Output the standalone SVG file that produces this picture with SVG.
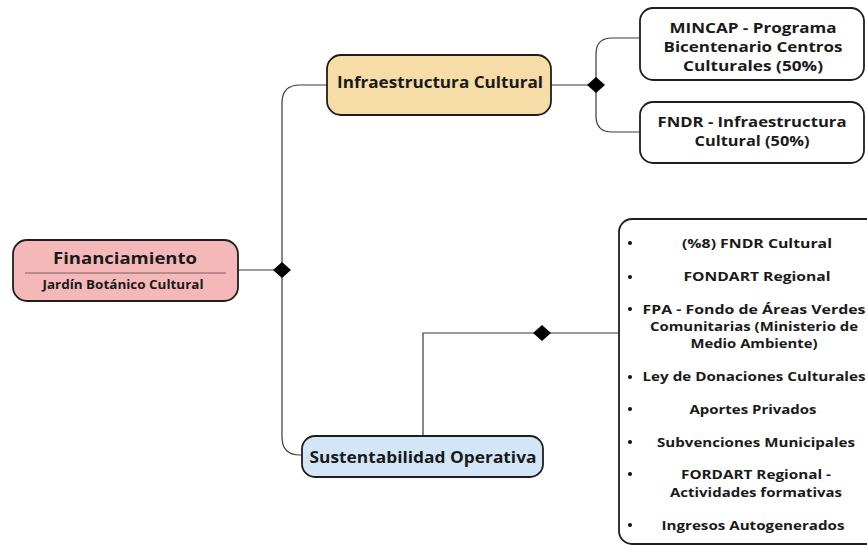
<svg xmlns="http://www.w3.org/2000/svg" width="867" height="546" viewBox="0 0 867 546">
<style>
.box{stroke:#1e1e1e;stroke-width:1.8}
.t{font-family:"Open Sans","Liberation Sans",sans-serif;font-weight:700;fill:#1a1a1a;text-anchor:middle}
.c{fill:none;stroke:#3a3a3a;stroke-width:1.2}
.d{fill:#000}
.b{fill:#111}
</style>
<rect width="867" height="546" fill="#ffffff"/>
<g id="connectors">
<path class="c" d="M238 270 H282"/>
<path class="c" d="M327 85 H300 Q282 85 282 103 V437 Q282 455 300 455 H302"/>
<path class="c" d="M551 85 H596"/>
<path class="c" d="M640 38 H612 Q596 38 596 54 V116 Q596 132 612 132 H640"/>
<path class="c" d="M423 436 V333 H620"/>
<polygon class="d" points="273,270 282,262 291,270 282,278"/>
<polygon class="d" points="587,85 596,77 605,85 596,93"/>
<polygon class="d" points="533,333 542,325 551,333 542,341"/>
</g>
<g id="financiamiento">
<rect class="box" x="13" y="240" width="225" height="61" rx="14" fill="#f5b8b8"/>
<line x1="25" y1="273" x2="226" y2="273" stroke="#5a4a4a" stroke-width="0.8"/>
<text class="t" x="125" y="264" font-size="16.5" textLength="144" lengthAdjust="spacingAndGlyphs">Financiamiento</text>
<text class="t" x="123" y="289" font-size="11.5" textLength="161" lengthAdjust="spacingAndGlyphs">Jardín Botánico Cultural</text>
</g>
<g id="infraestructura">
<rect class="box" x="327" y="55" width="224" height="60" rx="14" fill="#f6dca6"/>
<text class="t" x="440" y="88" font-size="16" textLength="206" lengthAdjust="spacingAndGlyphs">Infraestructura Cultural</text>
</g>
<g id="mincap">
<rect class="box" x="640" y="8" width="224" height="72" rx="13" fill="#ffffff"/>
<text class="t" x="753" y="33" font-size="15" textLength="167" lengthAdjust="spacingAndGlyphs">MINCAP - Programa</text>
<text class="t" x="753" y="52" font-size="15" textLength="179" lengthAdjust="spacingAndGlyphs">Bicentenario Centros</text>
<text class="t" x="753" y="71" font-size="15" textLength="140" lengthAdjust="spacingAndGlyphs">Culturales (50%)</text>
</g>
<g id="fndr">
<rect class="box" x="640" y="102" width="224" height="61" rx="13" fill="#ffffff"/>
<text class="t" x="752" y="127" font-size="15" textLength="189" lengthAdjust="spacingAndGlyphs">FNDR - Infraestructura</text>
<text class="t" x="752" y="146" font-size="15" textLength="115" lengthAdjust="spacingAndGlyphs">Cultural (50%)</text>
</g>
<g id="sustentabilidad">
<rect class="box" x="302" y="436" width="241" height="41" rx="13" fill="#d3e6f8"/>
<text class="t" x="423" y="463" font-size="16" textLength="227" lengthAdjust="spacingAndGlyphs">Sustentabilidad Operativa</text>
</g>
<g id="lista">
<rect class="box" x="619" y="219" width="270" height="325" rx="13" fill="#ffffff"/>
<g class="b">
<circle cx="630" cy="243" r="2"/>
<circle cx="630" cy="277" r="2"/>
<circle cx="630" cy="309" r="2"/>
<circle cx="630" cy="377" r="2"/>
<circle cx="630" cy="409" r="2"/>
<circle cx="630" cy="442" r="2"/>
<circle cx="630" cy="474" r="2"/>
<circle cx="630" cy="525" r="2"/>
</g>
<text class="t" x="757" y="248" font-size="13" textLength="150" lengthAdjust="spacingAndGlyphs">(%8) FNDR Cultural</text>
<text class="t" x="757" y="281" font-size="13" textLength="147" lengthAdjust="spacingAndGlyphs">FONDART Regional</text>
<text class="t" x="754" y="314" font-size="13" textLength="223" lengthAdjust="spacingAndGlyphs">FPA - Fondo de Áreas Verdes</text>
<text class="t" x="754" y="331" font-size="13" textLength="208" lengthAdjust="spacingAndGlyphs">Comunitarias (Ministerio de</text>
<text class="t" x="754" y="348" font-size="13" textLength="127" lengthAdjust="spacingAndGlyphs">Medio Ambiente)</text>
<text class="t" x="754" y="381" font-size="13" textLength="223" lengthAdjust="spacingAndGlyphs">Ley de Donaciones Culturales</text>
<text class="t" x="753" y="414" font-size="13" textLength="127" lengthAdjust="spacingAndGlyphs">Aportes Privados</text>
<text class="t" x="756" y="447" font-size="13" textLength="198" lengthAdjust="spacingAndGlyphs">Subvenciones Municipales</text>
<text class="t" x="756" y="479" font-size="13" textLength="150" lengthAdjust="spacingAndGlyphs">FORDART Regional -</text>
<text class="t" x="756" y="497" font-size="13" textLength="172" lengthAdjust="spacingAndGlyphs">Actividades formativas</text>
<text class="t" x="753" y="530" font-size="13" textLength="183" lengthAdjust="spacingAndGlyphs">Ingresos Autogenerados</text>
</g>
</svg>
